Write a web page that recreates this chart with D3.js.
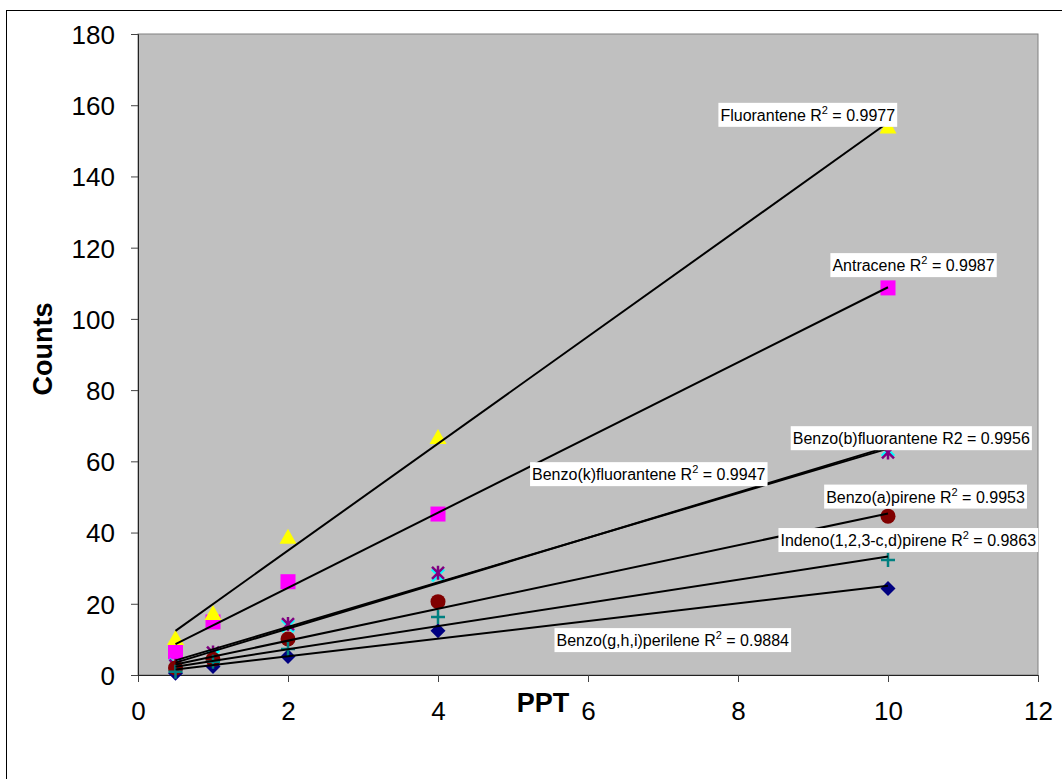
<!DOCTYPE html>
<html>
<head>
<meta charset="UTF-8">
<title>Counts vs PPT</title>
<style>
  * {padding:0; margin:0;}
  body {background:#fff;}
  svg {display:block; font-family:"Liberation Sans", Arial, sans-serif;}
  .tick text {font-size:26px; fill:#000;}
  .axisTitle {font-size:27px; font-weight:bold;}
  .r2 {font-size:16px;}
</style>
</head>
<body>
<svg id="chart" width="1062" height="779"></svg>
<script src="https://d3js.org/d3.v7.min.js"></script>
<script>
// concentrations (PPT)
var ppt = [0.5, 1, 2, 4, 10];

// counts per compound
var benzoGhiPerilene  = [0.5, 2.4, 5.2, 12.4, 24.3];
var antracene         = [6.5, 14.9, 26.2, 45.2, 108.7];
var fluorantene       = [10.4, 17.4, 38.8, 66.8, 154];
var benzoKFluorantene = [2.8, 5.2, 13.8, 28.0, 63.2];
var benzoBFluorantene = [2.6, 6.3, 14.3, 28.7, 62.5];
var benzoAPirene      = [2.0, 4.4, 10.1, 20.6, 44.6];
var indenoPirene      = [0.9, 3.7, 7.3, 16.3, 32.3];

var seriesNames = ["Benzo(g,h,i)perilene", "Antracene", "Fluorantene",
  "Benzo(k)fluorantene", "Benzo(b)fluorantene", "Benzo(a)pirene", "Indeno(1,2,3-c,d)pirene"];
var seriesValues = [benzoGhiPerilene, antracene, fluorantene,
  benzoKFluorantene, benzoBFluorantene, benzoAPirene, indenoPirene];
var r2Values = ["0.9884", "0.9987", "0.9977", "0.9947", "0.9956", "0.9953", "0.9863"];

var xTicks = [0, 2, 4, 6, 8, 10, 12];
var yTicks = [0, 20, 40, 60, 80, 100, 120, 140, 160, 180];

// look of each series
var markerType  = ["diamond", "square", "triangle", "x", "star", "circle", "plus"];
var markerColor = ["#000080", "#ff00ff", "#ffff00", "#00ffff", "#800080", "#800000", "#008080"];
var supR2       = [true, true, true, true, false, true, true];
// label centres in data units
var labelX = [7.13, 10.34, 8.93, 6.81, 10.31, 10.50, 10.27];
var labelY = [9.8, 115.1, 157.3, 56.4, 66.5, 50.1, 37.9];

var plotL = 138, plotR = 1038, plotT = 34, plotB = 675;

var svg = d3.select("#chart");

// outer chart frame (runs past the window at right and bottom)
svg.append("rect")
  .attr("x", 6.5).attr("y", 10.5)
  .attr("width", 1100).attr("height", 800)
  .attr("fill", "#fff").attr("stroke", "#000");

var x = d3.scaleLinear().domain([0, 12]).range([plotL, plotR]);
var y = d3.scaleLinear().domain([0, 180]).range([plotB, plotT]);

// plot area
svg.append("rect")
  .attr("x", plotL).attr("y", plotT)
  .attr("width", plotR - plotL).attr("height", plotB - plotT)
  .attr("fill", "#c0c0c0").attr("stroke", "#808080");

// axes
var xAxis = svg.append("g")
  .attr("transform", "translate(0," + plotB + ")")
  .call(d3.axisBottom(x).tickValues(xTicks).tickSize(7).tickPadding(13).tickFormat(d3.format("d")));
var yAxis = svg.append("g")
  .attr("transform", "translate(" + plotL + ",0)")
  .call(d3.axisLeft(y).tickValues(yTicks).tickSize(7).tickPadding(16).tickFormat(d3.format("d")));
svg.selectAll(".domain").attr("stroke", "#222");
svg.selectAll(".tick line").attr("stroke", "#444");
xAxis.selectAll(".tick text").attr("dy", "0.95em");
yAxis.selectAll(".tick text").attr("dy", "0.36em");

svg.append("text")
  .attr("class", "axisTitle")
  .attr("x", 543).attr("y", 712)
  .attr("text-anchor", "middle")
  .text("PPT");
svg.append("text")
  .attr("class", "axisTitle")
  .attr("transform", "translate(52,349) rotate(-90)")
  .attr("text-anchor", "middle")
  .text("Counts");

// marker drawing
function markerPath(type) {
  var s = 7.5;
  switch (type) {
    case "diamond": return "M0," + (-s) + "L" + s + ",0L0," + s + "L" + (-s) + ",0Z";
    case "square": return "M" + (-s) + "," + (-s) + "h" + (2 * s) + "v" + (2 * s) + "h" + (-2 * s) + "Z";
    case "triangle": return "M0," + (-s - 0.5) + "L" + (s + 1) + "," + (s - 0.5) + "L" + (-s - 1) + "," + (s - 0.5) + "Z";
    case "x": return "M-6,-6L6,6M6,-6L-6,6";
    case "star": return "M-6,-6L6,6M6,-6L-6,6M0,-7L0,7";
    case "plus": return "M-7,0L7,0M0,-7L0,7";
  }
  return null;
}

var series = seriesNames.map(function(name, i) {
  return {
    name: name, i: i,
    points: ppt.map(function(p, j) { return {x: p, y: seriesValues[i][j]}; })
  };
});

// markers
series.forEach(function(s) {
  var g = svg.append("g");
  var t = markerType[s.i];
  var c = markerColor[s.i];
  if (t === "circle") {
    g.selectAll("circle").data(s.points).enter().append("circle")
      .attr("cx", function(d) { return x(d.x); })
      .attr("cy", function(d) { return y(d.y); })
      .attr("r", 7.5)
      .attr("fill", c);
  } else {
    var filled = (t === "diamond" || t === "square" || t === "triangle");
    g.selectAll("path").data(s.points).enter().append("path")
      .attr("transform", function(d) { return "translate(" + x(d.x) + "," + y(d.y) + ")"; })
      .attr("d", markerPath(t))
      .attr("fill", filled ? c : "none")
      .attr("stroke", filled ? "none" : c)
      .attr("stroke-width", t === "x" ? 3 : 2.5);
  }
});

// linear trend lines (least squares)
series.forEach(function(s) {
  var mx = d3.mean(s.points, function(d) { return d.x; });
  var my = d3.mean(s.points, function(d) { return d.y; });
  var sxy = d3.sum(s.points, function(d) { return (d.x - mx) * (d.y - my); });
  var sxx = d3.sum(s.points, function(d) { return (d.x - mx) * (d.x - mx); });
  var slope = sxy / sxx, icpt = my - slope * mx;
  var x0 = d3.min(ppt), x1 = d3.max(ppt);
  svg.append("line")
    .attr("x1", x(x0)).attr("y1", y(icpt + slope * x0))
    .attr("x2", x(x1)).attr("y2", y(icpt + slope * x1))
    .attr("stroke", "#000").attr("stroke-width", 2);
});

// R² labels on white boxes
series.forEach(function(s) {
  var g = svg.append("g");
  var box = g.append("rect").attr("fill", "#fff");
  var txt = g.append("text")
    .attr("class", "r2")
    .attr("x", x(labelX[s.i]))
    .attr("y", y(labelY[s.i]) + 6)
    .attr("text-anchor", "middle");
  txt.append("tspan").text(s.name + " R");
  if (supR2[s.i]) {
    txt.append("tspan").attr("dy", -7).style("font-size", "11px").text("2");
    txt.append("tspan").attr("dy", 7).text(" = " + r2Values[s.i]);
  } else {
    txt.append("tspan").text("2 = " + r2Values[s.i]);
  }
  var bb = txt.node().getBBox();
  box.attr("x", bb.x - 2).attr("y", y(labelY[s.i]) - 12)
    .attr("width", bb.width + 4).attr("height", 24);
});
</script>
</body>
</html>
